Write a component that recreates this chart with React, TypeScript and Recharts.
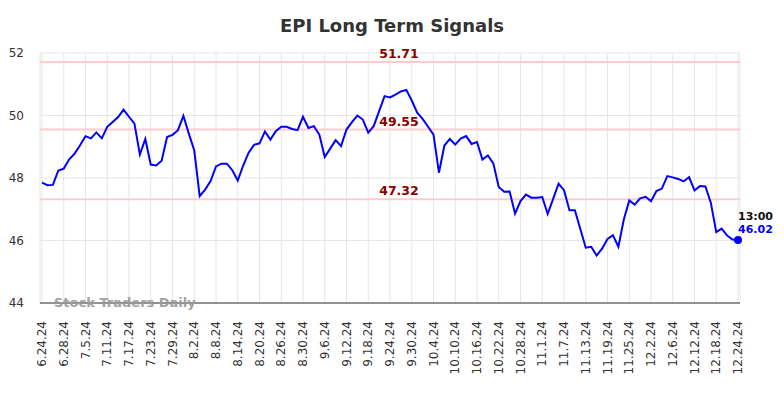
import { LineChart, Line, XAxis, YAxis, CartesianGrid, ReferenceLine } from 'recharts'

const prices = [
  47.85, 47.77, 47.78, 48.24, 48.3, 48.6, 48.78, 49.05, 49.34, 49.27,
  49.46, 49.27, 49.64, 49.79, 49.95, 50.19, 49.96, 49.74, 48.75, 49.25,
  48.43, 48.4, 48.55, 49.31, 49.38, 49.53, 49.99, 49.42, 48.88, 47.42,
  47.63, 47.9, 48.37, 48.46, 48.46, 48.25, 47.92, 48.4, 48.81, 49.06,
  49.11, 49.49, 49.23, 49.5, 49.64, 49.64, 49.57, 49.53, 49.96, 49.6,
  49.66, 49.39, 48.67, 48.94, 49.21, 49.02, 49.55, 49.79, 50.0, 49.87,
  49.45, 49.66, 50.14, 50.62, 50.58, 50.67, 50.77, 50.82, 50.48, 50.09,
  49.89, 49.64, 49.39, 48.17, 49.04, 49.25, 49.07, 49.26, 49.34, 49.09,
  49.15, 48.59, 48.72, 48.47, 47.71, 47.56, 47.57, 46.86, 47.26, 47.47,
  47.37, 47.37, 47.39, 46.85, 47.33, 47.82, 47.61, 46.97, 46.97, 46.37,
  45.77, 45.8, 45.52, 45.74, 46.05, 46.17, 45.8, 46.67, 47.28, 47.15,
  47.35, 47.4, 47.26, 47.58, 47.66, 48.06, 48.02, 47.97, 47.89, 48.03,
  47.6, 47.74, 47.73, 47.21, 46.27, 46.38, 46.16, 46.03, 46.02,
]

const tickLabels = [
  '6.24.24', '6.28.24', '7.5.24', '7.11.24', '7.17.24', '7.23.24', '7.29.24', '8.2.24',
  '8.8.24', '8.14.24', '8.20.24', '8.26.24', '8.30.24', '9.6.24', '9.12.24', '9.18.24',
  '9.24.24', '9.30.24', '10.4.24', '10.10.24', '10.16.24', '10.22.24', '10.28.24', '11.1.24',
  '11.7.24', '11.13.24', '11.19.24', '11.25.24', '12.2.24', '12.6.24', '12.12.24', '12.18.24',
  '12.24.24',
]

const levels = [51.71, 49.55, 47.32]
const yTicks = [44, 46, 48, 50, 52]
const lastTime = '13:00'

const FONT = '"DejaVu Sans", sans-serif'
const TICK_STEP = 4

const data = prices.map((v, i) => ({ i, v }))
const lastIdx = prices.length - 1

function DateTick({ x, y, payload }: any) {
  return (
    <text
      transform={`translate(${x},${y + 18}) rotate(-90)`}
      textAnchor="end"
      dominantBaseline="central"
      fontSize={12}
      fontFamily={FONT}
      fill="#333"
    >
      {tickLabels[payload.value / TICK_STEP]}
    </text>
  )
}

function LastDot(props: any) {
  const { cx, cy, index } = props
  if (index !== lastIdx) return <g key={`d${index}`} />
  return (
    <g key={`d${index}`}>
      <circle cx={cx} cy={cy} r={4} fill="#0000ff" />
      <text x={cx} y={cy - 20} fontSize={11} fontWeight="bold" fontFamily={FONT} fill="#111">
        {lastTime}
      </text>
      <text x={cx} y={cy - 7} fontSize={11} fontWeight="bold" fontFamily={FONT} fill="#0000ff">
        {prices[lastIdx].toFixed(2)}
      </text>
    </g>
  )
}

const levelLabel = (value: number) => (props: any) => {
  const vb = props.viewBox
  return (
    <text
      x={vb.x + vb.width / 2 + 9}
      y={vb.y - 4}
      textAnchor="middle"
      fontSize={12.5}
      fontWeight="bold"
      fontFamily={FONT}
      fill="#8b0000"
    >
      {value.toFixed(2)}
    </text>
  )
}

export default function App() {
  return (
    <div style={{ position: 'absolute', left: 0, top: 0, width: 784, height: 398, background: '#fff' }}>
      <div
        style={{
          position: 'absolute', left: 0, top: 15, width: 784, textAlign: 'center',
          fontFamily: FONT, fontWeight: 'bold', fontSize: 18, color: '#333',
        }}
      >
        EPI Long Term Signals
      </div>
      <LineChart width={784} height={398} data={data} margin={{ top: 53, right: 44, bottom: 35, left: 0 }}>
        <CartesianGrid stroke="#e6e6e6" />
        <XAxis
          type="number"
          dataKey="i"
          domain={[0, lastIdx]}
          ticks={tickLabels.map((_, k) => k * TICK_STEP)}
          interval={0}
          padding={{ left: 2, right: 2 }}
          height={60}
          tickSize={0}
          tickMargin={0}
          tick={<DateTick />}
          axisLine={{ stroke: '#333', strokeWidth: 1 }}
        />
        <YAxis
          type="number"
          domain={[44, 52]}
          ticks={yTicks}
          width={40}
          tickSize={0}
          tickMargin={16}
          axisLine={false}
          tick={{ fontSize: 12, fontFamily: FONT, fill: '#333' }}
        />
        {levels.map((lv) => (
          <ReferenceLine key={lv} y={lv} stroke="#ffcccc" strokeWidth={2} label={levelLabel(lv)} />
        ))}
        <Line
          type="linear"
          dataKey="v"
          stroke="#0000ff"
          strokeWidth={2}
          dot={LastDot}
          activeDot={false}
          isAnimationActive={false}
        />
      </LineChart>
      <div
        style={{
          position: 'absolute', left: 54, top: 295, fontFamily: FONT, fontWeight: 'bold',
          fontSize: 13, color: '#999', opacity: 0.9,
        }}
      >
        Stock Traders Daily
      </div>
    </div>
  )
}
